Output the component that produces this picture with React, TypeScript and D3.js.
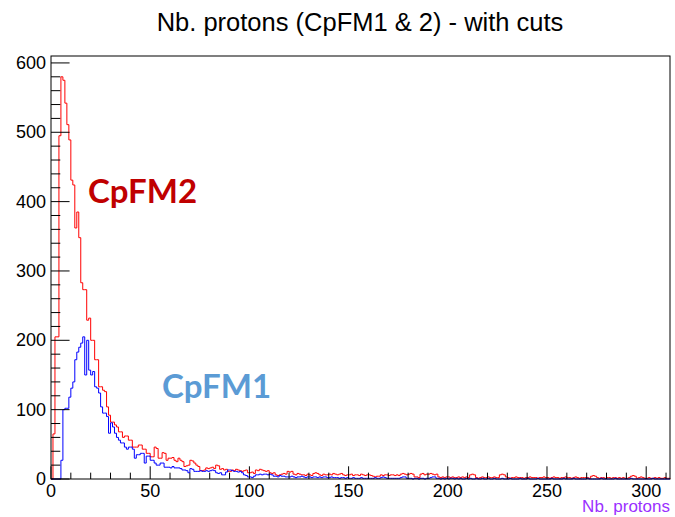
import React from "react";
import * as d3 from "d3";

const X_MAX = 312;
const Y_MAX = 610;
const xTicksMajor = [0, 50, 100, 150, 200, 250, 300];
const yTicksMajor = [0, 100, 200, 300, 400, 500, 600];
const titleText = "Nb. protons (CpFM1 & 2) - with cuts";
const xTitle = "Nb. protons";
const seriesNames = ["CpFM2", "CpFM1"];

// CpFM2 (red), one value per unit bin from 0 to 311
const cpfm2 = [
  0, 65, 205, 205, 495, 580, 575, 542, 511, 489,
  431, 424, 362, 385, 348, 283, 273, 273, 229, 232,
  200, 200, 172, 172, 133, 133, 128, 126, 104, 92,
  82, 82, 78, 75, 68, 68, 60, 62, 62, 56,
  56, 46, 46, 46, 49, 49, 43, 43, 37, 37,
  32, 32, 46, 44, 30, 30, 38, 37, 27, 30,
  30, 31, 27, 25, 30, 27, 25, 18, 19, 20,
  27, 26, 23, 20, 18, 12, 12, 13, 16, 15,
  16, 17, 15, 20, 19, 14, 15, 13, 14, 11,
  11, 13, 12, 14, 13, 12, 11, 12, 13, 9,
  9, 10, 8, 13, 12, 14, 13, 12, 11, 12,
  9, 8, 9, 6, 5, 6, 7, 8, 7, 11,
  10, 11, 7, 6, 8, 7, 6, 6, 5, 7,
  6, 5, 8, 9, 8, 6, 5, 7, 6, 6,
  7, 6, 8, 7, 6, 7, 8, 6, 5, 6,
  6, 7, 5, 6, 6, 5, 7, 6, 5, 6,
  6, 5, 4, 3, 4, 4, 6, 5, 6, 6,
  5, 6, 6, 5, 6, 5, 7, 8, 7, 6,
  7, 8, 7, 3, 3, 2, 7, 8, 6, 7,
  7, 8, 7, 6, 7, 3, 2, 3, 2, 3,
  3, 2, 3, 2, 2, 3, 2, 3, 2, 3,
  2, 6, 7, 6, 2, 1, 2, 3, 2, 2,
  3, 2, 2, 3, 2, 2, 6, 7, 6, 3,
  2, 1, 2, 2, 3, 2, 2, 2, 1, 2,
  2, 3, 2, 2, 2, 1, 2, 2, 3, 2,
  2, 1, 2, 3, 2, 2, 1, 2, 2, 3,
  2, 2, 1, 2, 3, 2, 1, 2, 2, 2,
  2, 1, 4, 5, 4, 2, 1, 2, 2, 1,
  2, 2, 1, 2, 2, 1, 2, 1, 2, 1,
  1, 2, 4, 5, 4, 1, 2, 3, 2, 1,
  1, 2, 1, 1, 2, 1, 2, 1, 1, 2, 1, 1,
];

// CpFM1 (blue), one value per unit bin from 0 to 311
const cpfm1 = [
  0, 0, 0, 0, 0, 27, 100, 102, 102, 118,
  131, 140, 172, 183, 190, 196, 205, 150, 200, 157,
  150, 155, 133, 131, 124, 104, 95, 95, 90, 66,
  81, 75, 66, 60, 56, 52, 52, 46, 43, 46,
  46, 43, 30, 35, 35, 37, 37, 23, 33, 33,
  27, 27, 23, 20, 20, 23, 23, 17, 17, 17,
  16, 18, 16, 16, 16, 15, 13, 13, 12, 9,
  15, 14, 11, 11, 11, 12, 11, 11, 12, 11,
  12, 13, 12, 9, 8, 9, 6, 6, 10, 13,
  13, 12, 11, 11, 10, 11, 9, 6, 5, 3,
  3, 2, 4, 6, 6, 7, 6, 7, 7, 6,
  7, 6, 4, 4, 3, 5, 4, 4, 3, 3,
  3, 4, 3, 2, 3, 3, 4, 3, 2, 3,
  3, 2, 3, 3, 2, 3, 2, 3, 3, 2,
  2, 3, 2, 2, 2, 1, 2, 2, 1, 2,
  1, 1, 2, 1, 1, 1, 2, 1, 1, 1,
  1, 1, 1, 2, 1, 1, 2, 3, 2, 1,
  1, 1, 1, 1, 1, 1, 2, 3, 3, 1,
  1, 1, 0, 1, 1, 0, 1, 1, 0, 1,
  1, 2, 3, 3, 1, 1, 0, 1, 0, 1,
  0, 1, 1, 0, 1, 0, 1, 0, 0, 1,
  0, 1, 0, 0, 1, 0, 0, 1, 0, 0,
  1, 0, 0, 1, 0, 0, 0, 1, 0, 0,
  0, 1, 0, 0, 0, 0, 1, 0, 0, 0,
  1, 0, 0, 0, 0, 1, 0, 0, 0, 0,
  0, 0, 1, 0, 0, 0, 0, 0, 1, 0,
  0, 0, 0, 1, 0, 0, 0, 0, 0, 0,
  1, 0, 0, 0, 0, 0, 0, 1, 0, 0,
  0, 0, 0, 0, 1, 0, 0, 0, 0, 0,
  0, 0, 1, 0, 0, 0, 0, 0, 0, 0,
  0, 0, 0, 1, 0, 0, 0, 0, 0, 0, 0, 0,
];

const W = 675;
const H = 517;
const FL = 51, FR = 670, FT = 56, FB = 479;

export default function App() {
  const x = d3.scaleLinear().domain([0, X_MAX]).range([FL, FR]);
  const y = d3.scaleLinear().domain([0, Y_MAX]).range([FB, FT]);

  const stepPath = (vals: number[]) => {
    const pts: [number, number][] = [[x(0), y(0)]];
    vals.forEach((v, i) => {
      pts.push([x(i), y(v)]);
      pts.push([x(i + 1), y(v)]);
    });
    pts.push([x(vals.length), y(0)]);
    return d3.line()(pts) || "";
  };

  const xMinor = d3.range(0, X_MAX + 1, 10);
  const yMinor = d3.range(0, Y_MAX + 1, 20);
  const leftMajorLen = (FR - FL) * 0.03;
  const bottomMajorLen = (FB - FT) * 0.03;

  const font = "'Liberation Sans', Arial, Helvetica, sans-serif";

  return (
    <svg width={W} height={H} style={{ position: "absolute", left: 0, top: 0, background: "#fff" }}>
      <rect x={0} y={0} width={W} height={H} fill="#fff" />
      <text x={360} y={31} textAnchor="middle" fontFamily={font} fontSize={25.5} fill="#000">{titleText}</text>

      <path d={stepPath(cpfm2)} fill="none" stroke="#ff0000" strokeWidth={1} />
      <path d={stepPath(cpfm1)} fill="none" stroke="#0000ff" strokeWidth={1} />

      {/* frame */}
      <rect x={FL} y={FT} width={FR - FL} height={FB - FT} fill="none" stroke="#000" strokeWidth={1} />

      {/* bottom axis ticks */}
      {xMinor.map((t) => {
        const major = t % 50 === 0;
        return (
          <line key={"xt" + t} x1={x(t)} x2={x(t)} y1={FB} y2={FB - (major ? bottomMajorLen : bottomMajorLen / 2)} stroke="#000" strokeWidth={1} />
        );
      })}
      {xTicksMajor.map((t) => (
        <text key={"xl" + t} x={x(t)} y={497} textAnchor="middle" fontFamily={font} fontSize={18} fill="#000">{t}</text>
      ))}

      {/* left axis ticks */}
      {yMinor.map((t) => {
        const major = t % 100 === 0;
        return (
          <line key={"yt" + t} x1={FL} x2={FL + (major ? leftMajorLen : leftMajorLen / 2)} y1={y(t)} y2={y(t)} stroke="#000" strokeWidth={1} />
        );
      })}
      {yTicksMajor.map((t) => (
        <text key={"yl" + t} x={46} y={y(t) + 6} textAnchor="end" fontFamily={font} fontSize={18} fill="#000">{t}</text>
      ))}

      <text x={670} y={512} textAnchor="end" fontFamily={font} fontSize={17} fill="#9b30ff">{xTitle}</text>

      <text x={88} y={203} fontFamily="Lato, 'Open Sans', sans-serif" fontWeight="bold" fontSize={33} fill="#c00000">{seriesNames[0]}</text>
      <text x={162} y={398} fontFamily="Lato, 'Open Sans', sans-serif" fontWeight="bold" fontSize={33} fill="#5b9bd5">{seriesNames[1]}</text>
    </svg>
  );
}
